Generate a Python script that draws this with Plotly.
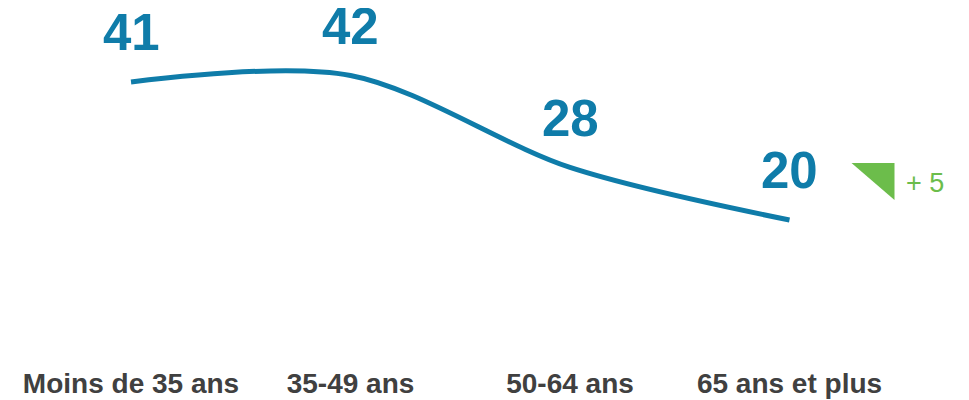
import plotly.graph_objects as go

# Données
categories = ["Moins de 35 ans", "35-49 ans", "50-64 ans", "65 ans et plus"]
valeurs = [41, 42, 28, 20]
evolution = "+ 5"

BLEU = "#0f7ca9"
VERT = "#6cbd4b"
GRIS = "#404040"
POLICE = "Arial, Liberation Sans, sans-serif"

fig = go.Figure()

# Courbe lissée
fig.add_trace(go.Scatter(
    x=list(range(len(categories))),
    y=valeurs,
    mode="lines",
    line=dict(color=BLEU, width=5, shape="spline", smoothing=0.9),
    hoverinfo="skip",
    showlegend=False,
))

# Étiquettes de valeurs
for i, v in enumerate(valeurs):
    fig.add_annotation(
        x=i, y=v, text=f"<b>{v}</b>", showarrow=False,
        yshift=49, yanchor="middle",
        font=dict(family=POLICE, size=51, color=BLEU),
    )

# Triangle vert + évolution, ancrés sur le dernier point
dernier = len(categories) - 1
fig.add_shape(
    type="path", xref="x", yref="y",
    xsizemode="pixel", ysizemode="pixel",
    xanchor=dernier, yanchor=valeurs[-1],
    path="M62,57 L105,57 L105,20 Z",
    fillcolor=VERT, line=dict(width=0),
)
fig.add_annotation(
    x=dernier, y=valeurs[-1], text=evolution, showarrow=False,
    xshift=135, yshift=37,
    font=dict(family=POLICE, size=27, color=VERT),
)

fig.update_xaxes(
    range=[-0.5604, 3.8178],
    tickvals=list(range(len(categories))),
    ticktext=[f"<b>{c}</b>" for c in categories],
    tickfont=dict(family=POLICE, size=28, color=GRIS),
    showgrid=False, zeroline=False, showline=False, ticks="",
    automargin=False,
)
fig.update_yaxes(
    range=[-1.92, 52.26],
    visible=False, showgrid=False, zeroline=False,
    automargin=False,
)

# la page ajoute une marge de 8 px : figure réduite d'autant
fig.update_layout(
    width=961, height=392,
    margin=dict(l=0, r=0, t=0, b=36),
    plot_bgcolor="white", paper_bgcolor="white",
    font=dict(family=POLICE),
)

fig.write_html("out.html")
